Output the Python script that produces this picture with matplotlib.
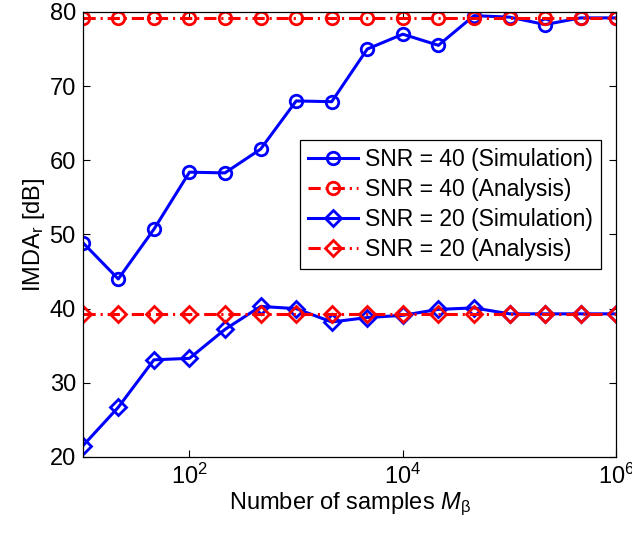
import numpy as np
import matplotlib
matplotlib.use("Agg")
import matplotlib.pyplot as plt
from matplotlib.ticker import FixedLocator, LogFormatterMathtext, NullLocator

plt.rcParams['font.family'] = ['Liberation Sans', 'DejaVu Sans']
plt.rcParams['mathtext.fontset'] = 'custom'
plt.rcParams['mathtext.rm'] = 'Liberation Sans'
plt.rcParams['mathtext.it'] = 'Liberation Sans:italic'
plt.rcParams['mathtext.bf'] = 'Liberation Sans:bold'

# Number of samples M_beta (one third of a decade apart)
samples = [10, 21.5, 46.4, 100, 215, 464, 1000, 2154, 4642, 10000,
           21544, 46416, 100000, 215443, 464159, 1000000]

snr40_sim = [48.9, 44.0, 50.7, 58.4, 58.3, 61.5, 68.0, 67.9, 75.0, 77.0,
             75.5, 79.5, 79.3, 78.3, 79.2, 79.2]
snr40_ana = [79.2] * 16
snr20_sim = [21.5, 26.7, 33.1, 33.3, 37.2, 40.3, 40.0, 38.2, 38.8, 39.1,
             39.9, 40.1, 39.3, 39.3, 39.3, 39.3]
snr20_ana = [39.3] * 16

labels = ['SNR = 40 (Simulation)', 'SNR = 40 (Analysis)',
          'SNR = 20 (Simulation)', 'SNR = 20 (Analysis)']

fig = plt.figure(figsize=(6.32, 5.33), dpi=100)
ax = fig.add_axes([0.131, 0.1426, 0.844, 0.835])

dashdot = (0, (4, 1.6, 0.7, 1.6))
common = dict(lw=2.2, ms=9, mew=2.0, mfc='none')
ax.plot(samples, snr40_sim, '-', color='#0000ff', marker='o', mec='#0000ff', label=labels[0], **common)
ax.plot(samples, snr40_ana, linestyle=dashdot, color='#ff0000', marker='o', mec='#ff0000', label=labels[1], **common)
ax.plot(samples, snr20_sim, '-', color='#0000ff', marker='D', mec='#0000ff', label=labels[2],
        **{**common, 'ms': 8})
ax.plot(samples, snr20_ana, linestyle=dashdot, color='#ff0000', marker='D', mec='#ff0000', label=labels[3],
        **{**common, 'ms': 8})

ax.set_xscale('log')
ax.set_xlim(10, 1e6)
ax.set_ylim(20, 80)
ax.xaxis.set_major_locator(FixedLocator([1e2, 1e4, 1e6]))
ax.xaxis.set_major_formatter(LogFormatterMathtext())
ax.xaxis.set_minor_locator(NullLocator())
ax.set_yticks([20, 30, 40, 50, 60, 70, 80])

ax.tick_params(direction='in', length=5, width=0.8, labelsize=17,
               top=True, right=True, pad=5)
for s in ax.spines.values():
    s.set_linewidth(0.9)

ax.set_xlabel(r'Number of samples $M_{\mathrm{\beta}}$', fontsize=17, labelpad=1)
ax.set_ylabel(r'IMDA$_{\mathrm{r}}$ [dB]', fontsize=17, labelpad=2)

leg = ax.legend(loc='upper left', bbox_to_anchor=(0.407, 0.712), fontsize=16.5,
                frameon=True, fancybox=False, edgecolor='black', framealpha=1,
                handlelength=2.2, handletextpad=0.3, borderpad=0.35,
                labelspacing=0.3, borderaxespad=0)
leg.get_frame().set_linewidth(0.9)

fig.savefig('out.png', dpi=100)
